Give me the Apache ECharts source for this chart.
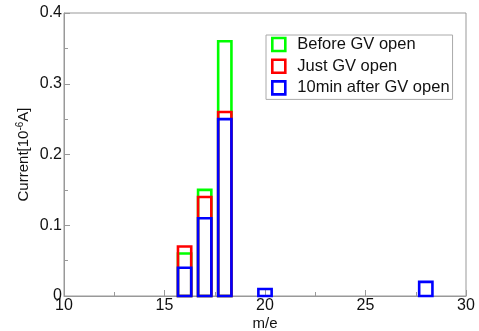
<!DOCTYPE html>
<html>
<head>
<meta charset="utf-8">
<script src="https://cdn.jsdelivr.net/npm/echarts@6/dist/echarts.min.js"></script>
<style>
  html, body { margin: 0; padding: 0; background: #fff; }
  #chart { width: 479px; height: 331px; }
</style>
</head>
<body>
<div id="chart"></div>
<script>
// m/e positions and currents [10^-6 A]
const massBefore = [16, 17, 18]
const currBefore = [0.06, 0.15, 0.36]
const massJust = [16, 17, 18]
const currJust = [0.07, 0.14, 0.26]
const massAfter = [16, 17, 18, 20, 28]
const currAfter = [0.04, 0.11, 0.25, 0.01, 0.02]

const names = ['Before GV open', 'Just GV open', '10min after GV open']
const colors = ['#00ff00', '#ff0000', '#0000ff']
const halfW = 0.33

function pairs(xs, ys) {
    return xs.map((x, i) => [x, ys[i]])
}

function boxSeries(name, color, data) {
    return {
        name: name,
        type: 'custom',
        data: data,
        encode: { x: 0, y: 1 },
        renderItem: function (params, api) {
            const x = api.value(0)
            const y = api.value(1)
            const p1 = api.coord([x - halfW, y])
            const p2 = api.coord([x + halfW, 0])
            return {
                type: 'rect',
                shape: { x: p1[0], y: p1[1], width: p2[0] - p1[0], height: p2[1] - p1[1] },
                style: { fill: 'none', stroke: color, lineWidth: 2.6 }
            }
        }
    }
}

const chart = echarts.init(document.getElementById('chart'))
chart.setOption({
    animation: false,
    textStyle: { fontFamily: 'Liberation Sans' },
    grid: {
        left: 64, right: 13, top: 13, bottom: 35,
        outerBoundsMode: 'none',
        show: true, borderColor: '#999', borderWidth: 1
    },
    legend: {
        orient: 'vertical',
        left: 266,
        top: 35,
        padding: [1, 3, 3, 5],
        itemGap: 4.7,
        itemWidth: 13,
        itemHeight: 13,
        borderColor: '#aaa',
        borderWidth: 1,
        icon: 'rect',
        textStyle: { fontSize: 16.5, lineHeight: 17, color: '#111', fontFamily: 'Liberation Sans', padding: [0, 0, 0, 7] },
        data: names.map((n, i) => ({
            name: n,
            itemStyle: { color: '#fff', borderColor: colors[i], borderWidth: 2.6 }
        }))
    },
    xAxis: {
        type: 'value',
        min: 10,
        max: 30,
        interval: 5,
        name: 'm/e',
        nameLocation: 'middle',
        nameGap: 20,
        nameMoveOverlap: false,
        nameTextStyle: { fontSize: 15, color: '#111' },
        axisLine: { lineStyle: { color: '#999' } },
        axisTick: { inside: true, length: 6, lineStyle: { color: '#999' } },
        minorTick: { show: true, splitNumber: 2, length: 4, lineStyle: { color: '#999' } },
        axisLabel: { fontSize: 16, color: '#111', margin: 2 },
        splitLine: { show: false }
    },
    yAxis: {
        type: 'value',
        min: 0,
        max: 0.4,
        interval: 0.1,
        name: '{a|Current[10}{s|-6}{a|A]}',
        nameLocation: 'middle',
        nameGap: 32,
        nameMoveOverlap: false,
        nameTextStyle: {
            rich: {
                a: { fontSize: 15, color: '#111', fontFamily: 'Liberation Sans' },
                s: { fontSize: 10, color: '#111', fontFamily: 'Liberation Sans', verticalAlign: 'top', padding: [0, 0, 7, 0] }
            }
        },
        axisLine: { show: true, lineStyle: { color: '#999' } },
        axisTick: { show: true, inside: true, length: 6, lineStyle: { color: '#999' } },
        minorTick: { show: true, splitNumber: 2, length: 4, lineStyle: { color: '#999' } },
        axisLabel: { fontSize: 16, color: '#111', margin: 2 },
        splitLine: { show: false }
    },
    series: [
        boxSeries(names[0], colors[0], pairs(massBefore, currBefore)),
        boxSeries(names[1], colors[1], pairs(massJust, currJust)),
        boxSeries(names[2], colors[2], pairs(massAfter, currAfter))
    ]
})
</script>
</body>
</html>
